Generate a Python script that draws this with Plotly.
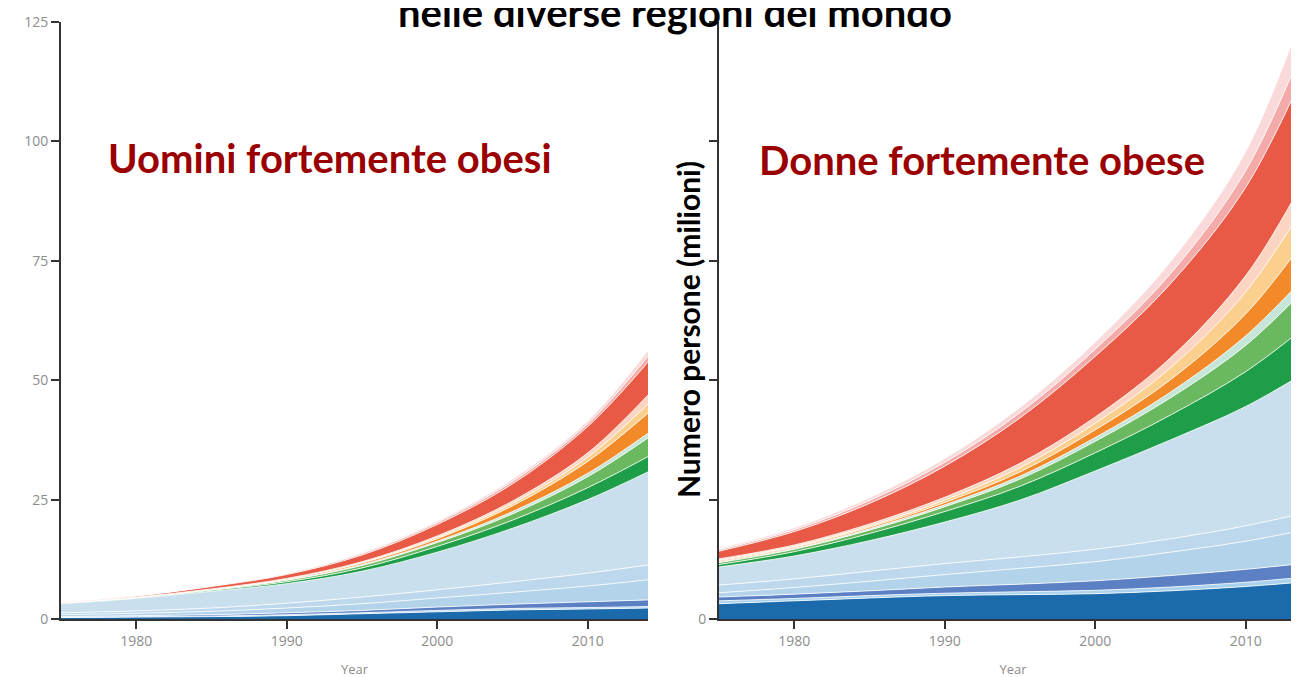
import plotly.graph_objects as go

years = [1975, 1980, 1985, 1990, 1995, 2000, 2005, 2010, 2014]

series_names = ["dark blue", "thin blue", "medium blue", "light blue A", "light blue B",
                "light blue", "dark green", "light green", "pale green", "orange",
                "yellow", "pale pink", "red", "pink", "pale top"]
series_colors = ["#1b6aab", "#a9d2ee", "#5b80c4", "#b3d3ea", "#bdd8ec",
                 "#c9dfee", "#1f9e4a", "#6ab85f", "#c5e6d8", "#f38a2a",
                 "#fbd08f", "#fcd5c2", "#e85a45", "#f3aaa8", "#f9d9d9"]

# Men (millions), bottom to top
men = [
    [0.3, 0.4, 0.5, 0.7, 1.1, 1.5, 1.9, 2.1, 2.3],
    [0.1, 0.1, 0.1, 0.2, 0.2, 0.3, 0.3, 0.3, 0.3],
    [0.1, 0.2, 0.3, 0.4, 0.5, 0.7, 0.9, 1.2, 1.4],
    [0.4, 0.5, 0.7, 1.0, 1.4, 1.9, 2.5, 3.3, 4.2],
    [0.4, 0.5, 0.7, 1.0, 1.4, 1.7, 2.2, 2.7, 3.1],
    [1.9, 2.6, 3.5, 4.1, 5.4, 7.9, 11.2, 15.4, 19.5],
    [0.05, 0.1, 0.2, 0.4, 0.7, 1.2, 1.7, 2.5, 3.2],
    [0.05, 0.05, 0.1, 0.3, 0.5, 0.8, 1.3, 2.3, 3.9],
    [0.02, 0.05, 0.05, 0.1, 0.2, 0.3, 0.5, 0.7, 1.0],
    [0.05, 0.05, 0.05, 0.15, 0.3, 0.5, 1.2, 2.5, 4.2],
    [0.03, 0.03, 0.05, 0.07, 0.15, 0.3, 0.5, 0.9, 1.9],
    [0.02, 0.02, 0.05, 0.08, 0.15, 0.3, 0.5, 0.9, 1.9],
    [0.1, 0.2, 0.5, 0.8, 1.4, 2.4, 3.6, 5.5, 6.9],
    [0.05, 0.05, 0.1, 0.2, 0.3, 0.4, 0.5, 0.6, 1.2],
    [0.05, 0.05, 0.1, 0.1, 0.2, 0.3, 0.5, 0.6, 1.2],
]

# Women (millions), bottom to top
women = [
    [3.2, 3.8, 4.4, 4.9, 5.1, 5.3, 5.9, 6.8, 7.8],
    [0.6, 0.5, 0.5, 0.5, 0.6, 0.7, 0.8, 0.9, 1.0],
    [0.8, 0.9, 1.0, 1.3, 1.6, 2.0, 2.4, 2.7, 2.9],
    [0.9, 1.4, 2.0, 2.6, 3.3, 4.0, 4.9, 5.9, 7.0],
    [1.6, 1.8, 2.1, 2.3, 2.4, 2.6, 2.8, 3.2, 3.6],
    [3.8, 4.8, 6.4, 8.7, 11.9, 16.4, 20.7, 25.0, 29.4],
    [0.5, 0.9, 1.5, 2.2, 2.9, 3.8, 5.2, 7.3, 9.6],
    [0.4, 0.5, 0.7, 1.0, 1.5, 2.4, 3.6, 5.5, 8.0],
    [0.2, 0.2, 0.3, 0.4, 0.6, 0.8, 1.2, 2.0, 2.6],
    [0.2, 0.2, 0.3, 0.5, 0.9, 1.6, 2.6, 4.6, 7.8],
    [0.2, 0.2, 0.3, 0.5, 0.9, 1.4, 2.5, 4.6, 7.5],
    [0.2, 0.3, 0.4, 0.6, 0.9, 1.3, 2.1, 3.4, 5.5],
    [1.6, 2.8, 4.3, 6.5, 9.5, 12.7, 15.5, 18.5, 22.5],
    [0.3, 0.4, 0.6, 0.8, 1.1, 1.5, 2.1, 3.5, 6.0],
    [0.3, 0.4, 0.6, 0.8, 1.1, 1.5, 2.5, 4.0, 7.5],
]

x_ticks = [1980, 1990, 2000, 2010]
y_ticks = [0, 25, 50, 75, 100, 125]
y_ticktext_left = ["0", "25", "50", "75", "100", "125"]
y_ticktext_right = ["0", "", "", "", "", ""]

title_text = "nelle diverse regioni del mondo"
men_label = "Uomini fortemente obesi"
women_label = "Donne fortemente obese"
y_title = "Numero persone (milioni)"

fig = go.Figure()
for name, col, vals in zip(series_names, series_colors, men):
    fig.add_trace(go.Scatter(x=years, y=vals, name=name, stackgroup="men",
                             mode="lines", line=dict(color="white", width=0.8, shape="spline"),
                             fillcolor=col, xaxis="x", yaxis="y", showlegend=False))
for name, col, vals in zip(series_names, series_colors, women):
    fig.add_trace(go.Scatter(x=years, y=vals, name=name, stackgroup="women",
                             mode="lines", line=dict(color="white", width=0.8, shape="spline"),
                             fillcolor=col, xaxis="x2", yaxis="y2", showlegend=False))

axis_common = dict(showline=True, linecolor="#333", linewidth=2, ticks="outside",
                   ticklen=8, tickwidth=2, tickcolor="#333", showgrid=False, zeroline=False,
                   automargin=False,
                   tickfont=dict(family="Open Sans", size=14, color="#8c8c8c"))
year_title = dict(text="Year", font=dict(family="Open Sans", size=13, color="#8c8c8c"), standoff=16)

PW = 1246.0   # plot area width (px)
PH = 597.0    # plot area height (px)
L, B_PIX = 53.0, 611.0

fig.update_layout(
    width=1299, height=677,
    margin=dict(l=53, r=0, t=14, b=66, autoexpand=False),
    paper_bgcolor="white", plot_bgcolor="white",
    xaxis=dict(domain=[0, 587 / PW], range=[1975, 2014], tickvals=x_ticks, anchor="y",
               title=year_title, **axis_common),
    yaxis=dict(domain=[0, 1], range=[0, 125], tickvals=y_ticks, ticktext=y_ticktext_left,
               anchor="x", **axis_common),
    xaxis2=dict(domain=[(711 - L) / PW, 1], range=[1975, 2014.07], tickvals=x_ticks, anchor="y2",
                title=year_title, **axis_common),
    yaxis2=dict(domain=[0, 1], range=[0, 125], tickvals=y_ticks, ticktext=y_ticktext_right,
                anchor="x2", **axis_common),
)


def px(xf):
    return (xf - 8 - L) / PW


def py(yf):
    return (B_PIX - (yf - 8)) / PH


fig.add_annotation(text=f"<b>{title_text}</b>", xref="paper", yref="paper", x=px(675), y=1.0175,
                   xanchor="center", yanchor="middle", showarrow=False,
                   font=dict(family="Lato", size=40, color="black"))
fig.add_annotation(text=f"<b>{men_label}</b>", xref="paper", yref="paper", x=px(330), y=py(158),
                   xanchor="center", yanchor="middle", showarrow=False,
                   font=dict(family="Lato", size=40, color="#9b0000"))
fig.add_annotation(text=f"<b>{women_label}</b>", xref="paper", yref="paper", x=px(982), y=py(160),
                   xanchor="center", yanchor="middle", showarrow=False,
                   font=dict(family="Lato", size=40, color="#9b0000"))
fig.add_annotation(text=f"<b>{y_title}</b>", xref="paper", yref="paper", x=px(688), y=py(330),
                   xanchor="center", yanchor="middle", showarrow=False, textangle=-90,
                   font=dict(family="Lato", size=30, color="black"))

fig.write_html("out.html")
